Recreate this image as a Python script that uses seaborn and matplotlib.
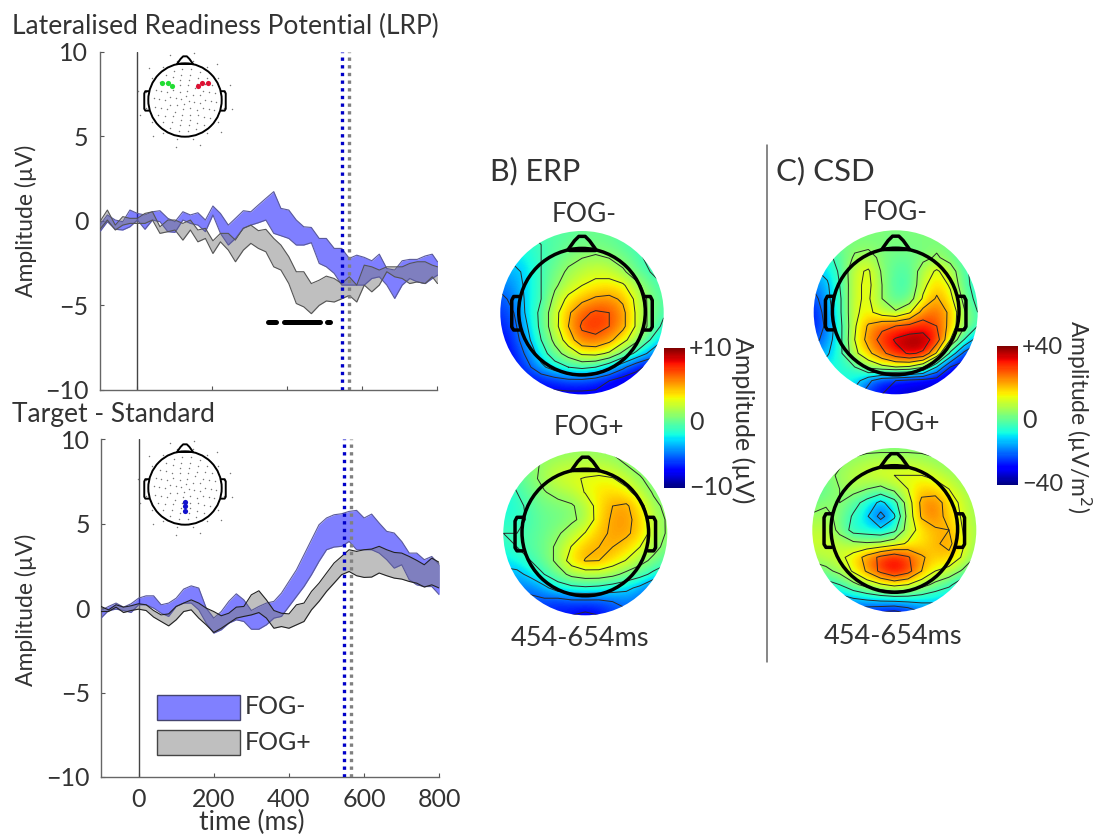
import numpy as np
import matplotlib
matplotlib.use("Agg")
import matplotlib.pyplot as plt
from matplotlib.patches import Circle, Rectangle
import seaborn as sns

# ---- band data (uV) ----
time_lrp = [-99, -79, -58, -38, -19, 1, 21, 41, 61, 82, 101, 122, 142, 162, 182, 202, 222, 243, 262, 283, 303, 323, 343,
            364, 383, 404, 424, 444, 464, 485, 504, 525, 545, 565, 585, 605, 625, 645, 665, 686, 706, 726, 746, 767, 786, 800]
lrp_minus_hi = [-.26, .34, .04, -.06, .63, .43, .34, .53, .59, .14, -.06, .53, .34, .47, .04, .87, .43, -.26, .14, .59, .53, .93, 1.32,
                1.72, .73, .63, .04, -.36, -.40, -1.05, -1.05, -1.64, -1.64, -2.23, -2.04, -2.17, -2.37, -1.98, -2.83, -2.92, -2.37, -2.29, -2.29, -2.09, -1.98, -2.43]
lrp_minus_lo = [-.65, -.06, -.51, -.55, -.36, .04, -.51, .04, -.06, -.65, -.69, .04, -.16, -.26, -.65, .34, -.75, -1.44, -1.05, -.45, -.26, -.12, .04,
                -.75, -.89, -1.05, -1.44, -1.44, -1.30, -2.53, -2.73, -3.12, -3.81, -3.81, -3.81, -3.81, -3.42, -3.32, -3.81, -4.60, -3.81, -3.42, -3.62, -3.72, -3.42, -3.22]
lrp_plus_hi = [-.06, .63, -.26, .24, .14, .14, .43, .53, -.36, .04, .04, -.16, .04, -.55, -.45, -1.19, -.75, -.75, -1.15, -.45, -.26, -.59, -.51,
               -1.05, -1.44, -2.13, -3.02, -3.02, -3.72, -3.52, -3.28, -3.42, -3.72, -3.32, -3.81, -2.63, -2.73, -2.92, -2.73, -2.73, -2.73, -2.53, -2.43, -2.43, -2.63, -2.73]
lrp_plus_lo = [-.51, .04, -.55, -.26, -.16, -.16, -.16, .04, -.75, -.65, -.55, -1.15, -.55, -1.25, -1.05, -1.94, -1.25, -1.74, -2.43, -1.74, -1.34, -1.64, -1.84,
               -2.73, -2.92, -3.72, -4.90, -5.10, -5.50, -5.01, -4.75, -4.81, -4.62, -4.42, -4.81, -3.81, -4.21, -3.81, -3.02, -3.32, -3.42, -3.72, -3.62, -3.72, -3.32, -3.72]

time_ts = list(range(-100, 801, 20))
ts_minus_hi = [-.14, .10, .30, .06, .26, .59, .73, .73, .20, .30, .59, 1.13, 1.32, 1.19, 0, -.59, -.20, .40, .85, .49, -.14, .10, .30,
               .40, .89, 1.58, 2.27, 3.16, 4.05, 4.94, 5.34, 5.53, 5.59, 5.73, 5.79, 5.34, 5.57, 5.04, 4.55, 4.45, 3.95, 3.26, 3.26, 2.87, 3.06, 2.57]
ts_minus_lo = [-.59, -.14, -.06, -.14, -.26, .20, .20, 0, -.30, -.49, .10, .30, .30, -.10, -.89, -1.48, -1.28, -.89, -.69, -.79, -1.25, -1.25, -.99,
               -.59, -.49, .10, .69, 1.28, 1.98, 2.77, 3.46, 3.62, 3.66, 3.95, 3.46, 3.46, 3.46, 3.26, 2.87, 2.37, 2.57, 1.68, 1.38, 1.28, 1.28, .79]
ts_plus_hi = [.10, -.10, .20, .06, .14, .26, .20, -.14, -.40, -.34, .10, .30, .49, .30, 0, -.20, -.45, -.30, .06, .10, .79, 1.03, .49,
              -.14, -.30, -.34, .20, .30, .99, 1.48, 2.08, 2.67, 3.06, 3.46, 3.36, 3.46, 3.50, 3.66, 3.46, 3.30, 3.26, 3.06, 2.83, 2.57, 2.96, 2.71]
ts_plus_lo = [-.20, -.20, .06, -.26, -.14, -.06, -.14, -.53, -.79, -1.05, -.69, -.20, -.10, -.59, -.99, -1.44, -1.19, -.89, -.59, -.49, -.40, -.26, -.59,
              -1.19, -1.09, -1.19, -.99, -.79, -.10, .40, .99, 1.48, 1.98, 2.17, 1.92, 1.82, 1.84, 2.08, 1.92, 1.78, 1.72, 1.58, 1.48, 1.25, 1.38, 1.19]

sig_start = [349, 391, 507]
sig_end = [369, 487, 515]
sig_level = -6
peak_minus = 546
peak_plus = 564
y_ticks = [-10, -5, 0, 5, 10]
y_tick_labels = ["\u221210", "\u22125", "0", "5", "10"]
x_ticks = [0, 200, 400, 600, 800]

# ---- scalp maps, 13 x 13 samples across the disc, top row = front of the head ----
erp_minus = [
    [-1.5, -1.5, -1.5, -1, -1, -1, -.5, -.5, -.5, -1, -1, -1.5, -1.5],
    [-2, -2, -2, -1.5, -1, -.5, -.3, -.3, -.5, -1, -1.5, -2, -2],
    [-3, -3, -2.5, -1.5, -.8, 0, .5, .8, .5, -.2, -1, -2, -2.5],
    [-4, -4, -3, -1.5, -.3, .8, 1.5, 2, 1.8, .8, -.5, -1.5, -2],
    [-5, -4.5, -3, -1.5, .2, 1.5, 2.5, 3, 3.2, 2.8, 1, -.5, -1.5],
    [-6, -5, -3, -1.5, 1, 3, 4, 4.8, 5, 4.2, 2, 0, -1],
    [-6.5, -5.5, -3, -1, 1.8, 4.2, 6, 6.8, 6.5, 5, 2.2, 0, -1.2],
    [-7, -6, -3.5, -1, 1.8, 4.5, 6.8, 7.2, 6.5, 5, 2.2, 0, -2],
    [-7.5, -6.5, -4, -1.5, 1, 3.5, 5.8, 6, 5, 3.2, 1, -1.5, -3.5],
    [-8, -7, -5, -2.5, -.3, 1.3, 2.8, 3, 2.2, 0, -2, -4, -6],
    [-8, -7.5, -6, -4, -2.5, -1.5, -1, -1.5, -3, -5, -7, -8, -8],
    [-8, -8, -7.5, -7, -6.5, -6, -6, -6.5, -7.5, -8.5, -8.5, -8.5, -8.5],
    [-8, -8, -8, -8, -8, -8, -8, -8, -8, -8, -8, -8, -8],
]
erp_plus = [
    [-.5, -.5, 0, 0, .3, .5, .5, .5, .3, 0, -.5, -.5, -.5],
    [-1, -.5, 0, .8, 1.3, 1.5, 1.6, 1.5, 1.2, .5, -.2, -.8, -1],
    [-2, -1, 0, 1, 2, 2.3, 2.6, 2.8, 2.6, 1.8, .7, -.3, -1],
    [-2.5, -1.5, -.5, .4, 1, 1.5, 2.6, 3.2, 3.5, 3, 1.7, .3, -.5],
    [-2.5, -2, -1, -.3, 0, .3, 1.3, 3.3, 4.5, 4.8, 3.2, 1, 0],
    [-2, -2, -1.2, -.5, -.3, .2, 1, 3.4, 4.8, 5, 3.8, 1.5, .3],
    [-1.5, -1.5, -1, -.5, .3, 1.3, 2.6, 4, 4.8, 4.8, 3.8, 1.6, .3],
    [-2, -1.5, -1, -.3, .9, 2.6, 4, 4.5, 4.5, 3.8, 2.5, 1.2, -.2],
    [-3, -2.5, -1.5, -.5, 1, 3.4, 4.6, 4.5, 3.5, 2.4, 1.2, 0, -1],
    [-4, -4, -3, -1.5, -.3, 1, 1.5, 1.5, 1, 0, -.8, -2, -3],
    [-5, -5, -5, -4, -2.5, -2, -1.8, -2, -2.5, -3, -4, -6, -6.5],
    [-6, -6, -6, -6, -6.5, -6, -6, -6, -5.5, -5, -5.5, -6, -6],
    [-7, -7, -7, -7, -7, -7.5, -8, -7.5, -6.5, -6, -6, -6, -6],
]
csd_minus = [
    [0, 0, 0, 0, 0, 0, 0, 0, 0, 0, 0, 0, 0],
    [-2, -2, -1, 0, 0, 0, 0, 0, 0, 0, -1, -2, -3],
    [-10, -8, -3, 3, 5, 0, -2, -2, 0, 3, -1, -6, -10],
    [-15, -12, -4, 8, 11, 1, -4, -4, 6, 11, 6, -4, -10],
    [-20, -15, -5, 8, 12, 2, -5, -5, 8, 15, 9, -3, -10],
    [-25, -16, -6, 9, 11, 2, -4, -2, 11, 19, 12, 0, -9],
    [-28, -18, -6, 9, 12, 6, 3, 9, 21, 24, 16, 3, -6],
    [-28, -20, -7, 9, 19, 24, 26, 28, 30, 26, 15, 3, -6],
    [-25, -18, -7, 10, 21, 29, 35, 38, 38, 30, 10, -6, -18],
    [-20, -15, -7, 8, 16, 24, 31, 35, 33, 17, -8, -24, -32],
    [-12, -10, -9, -6, 4, 8, 10, 9, 3, -14, -30, -34, -35],
    [-10, -9, -9, -10, -20, -28, -30, -32, -33, -34, -34, -34, -34],
    [-10, -10, -12, -18, -26, -30, -32, -34, -34, -34, -34, -34, -34],
]
csd_plus = [
    [0, 0, 0, 0, 0, 0, 0, 0, 0, 0, 0, 0, 0],
    [0, 0, 1, 3, 5, 6, 6, 6, 5, 3, 1, 0, 0],
    [-2, 0, 3, 6, 8, 9, 10, 10, 10, 8, 5, 2, 0],
    [-5, -2, 2, 5, 2, 0, 4, 10, 15, 14, 10, 5, 2],
    [-1, 1, 2, -3, -9, -16, -9, 6, 20, 22, 14, 8, 3],
    [3, 4, 0, -7, -13, -25, -15, 5, 19, 22, 15, 9, 3],
    [6, 7, 0, -9, -10, -12, -8, 6, 13, 17, 18, 10, 4],
    [8, 8, 6, 4, 3, 4, 7, 11, 13, 17, 20, 11, 3],
    [4, 6, 8, 13, 21, 28, 32, 27, 19, 15, 16, 9, 1],
    [-2, 0, 4, 11, 19, 28, 34, 29, 18, 10, 7, 1, -5],
    [-8, -9, -6, 0, 5, 9, 12, 10, 5, 0, -4, -12, -20],
    [-14, -18, -17, -14, -12, -10, -9, -9, -10, -12, -15, -22, -24],
    [-22, -22, -24, -26, -28, -30, -32, -28, -22, -18, -16, -18, -20],
]

# channel positions on the small heads, unit head radius
lrp_left_x = [-.63, -.45, -.36]
lrp_left_y = [.47, .47, .38]
lrp_right_x = [.36, .45, .63]
lrp_right_y = [.38, .47, .47]
ts_chan_x = [0, 0, 0]
ts_chan_y = [-.37, -.5, -.64]
ring_radius = [.12, .25, .42, .55, .7, .85, 1.08, 1.3]
ring_count = [4, 8, 12, 14, 18, 22, 16, 12]

W, H = 1095, 834
TXT = "#333333"
BLUE_EDGE = "#5a5a9a"
GRAY_EDGE = "#555555"

sns.set_theme(style="white")
plt.rcParams["font.family"] = ["Lato", "DejaVu Sans"]
plt.rcParams["text.color"] = TXT

fig = plt.figure(figsize=(W / 100, H / 100), dpi=100)


def px_axes(left, top, right, bottom):
    return fig.add_axes([left / W, 1 - bottom / H, (right - left) / W, (bottom - top) / H])


def draw_bands(ax, t, minus_hi, minus_lo, plus_hi, plus_lo, plus_edge):
    ax.fill_between(t, minus_lo, minus_hi, color="#0000ff", alpha=0.5, lw=0, zorder=2)
    ax.fill_between(t, plus_lo, plus_hi, color="#808080", alpha=0.5, lw=0, zorder=3)
    for vals in (minus_hi, minus_lo):
        sns.lineplot(x=t, y=vals, ax=ax, color=BLUE_EDGE, lw=0.8, estimator=None, zorder=4)
    for vals in (plus_hi, plus_lo):
        sns.lineplot(x=t, y=vals, ax=ax, color=plus_edge, lw=0.8, estimator=None, zorder=4)
    ax.axvline(0, color="#444444", lw=1, zorder=1)
    ax.axvline(peak_minus, color="#0000c8", lw=2.4, ls=(0, (1, 1.3)), zorder=5)
    ax.axvline(peak_plus, color="#808080", lw=2.4, ls=(0, (1, 1.3)), zorder=5)
    ax.set_xlim(-100, 800)
    ax.set_ylim(-10, 10)
    ax.set_yticks(y_ticks)
    ax.set_yticklabels(y_tick_labels)
    ax.set_xticks(x_ticks)
    ax.tick_params(axis="both", direction="in", length=3, width=0.8, color="#555555",
                   labelsize=18, labelcolor=TXT, pad=8, left=True, bottom=True)
    ax.patch.set_alpha(0)
    sns.despine(ax=ax)
    for s in ("left", "bottom"):
        ax.spines[s].set_color("#666666")
        ax.spines[s].set_linewidth(1.0)


ax_lrp = px_axes(99.5, 51.7, 437.5, 389.7)
draw_bands(ax_lrp, time_lrp, lrp_minus_hi, lrp_minus_lo, lrp_plus_hi, lrp_plus_lo, GRAY_EDGE)
ax_lrp.set_xticklabels([])
for a, b in zip(sig_start, sig_end):
    ax_lrp.plot([a, b], [sig_level, sig_level], color="black", lw=3.6, solid_capstyle="round", zorder=6)

ax_ts = px_axes(101, 439.3, 439.3, 777)
draw_bands(ax_ts, time_ts, ts_minus_hi, ts_minus_lo, ts_plus_hi, ts_plus_lo, "#222222")

# overlay in figure pixels for heads, maps and free text
ov = fig.add_axes([0, 0, 1, 1], zorder=10)
ov.patch.set_alpha(0)
ov.axis("off")


def draw_head(cx, cy, r, lw):
    ov.add_patch(Circle((cx, cy), r, fill=False, ec="black", lw=lw, zorder=8))
    nose_x = np.array([-.22, -.12, -.05, .05, .12, .22])
    nose_y = np.array([.98, 1.12, 1.19, 1.19, 1.12, .98])
    ov.plot(cx + r * nose_x, cy - r * nose_y, color="black", lw=lw, zorder=8)
    ov.plot(cx + r * np.array([-.2, .2]), cy - r * np.array([.98, .98]), color="black", lw=lw, zorder=8)
    for side in (-1, 1):
        ear_x = side * np.array([.99, 1.08, 1.11, 1.11, 1.08, .99])
        ear_y = np.array([.24, .24, .18, -.24, -.29, -.29])
        ov.plot(cx + r * ear_x, cy - r * ear_y, color="black", lw=lw, zorder=8)


def draw_channels(cx, cy, r, extra):
    for rad, n in zip(ring_radius, ring_count):
        ang = np.linspace(0, 2 * np.pi, n, endpoint=False) + 0.2
        ov.scatter(cx + r * rad * np.sin(ang), cy - r * rad * np.cos(ang), s=1.1, color="#777777", lw=0, zorder=7)
    for xs, ys, col in extra:
        ov.scatter(cx + r * np.array(xs), cy - r * np.array(ys), s=14, color=col, lw=0, zorder=9)


def draw_map(grid, cx, cy, r, vmax, head_cx, head_cy):
    z = np.array(grid, dtype=float)
    half = r / 12
    disc = Circle((cx, cy), r, transform=ov.transData)
    im = ov.imshow(z, cmap="jet", vmin=-vmax, vmax=vmax, interpolation="bicubic", aspect="auto",
                   extent=(cx - r - half, cx + r + half, cy + r + half, cy - r - half), zorder=2)
    im.set_clip_path(disc)
    xs = cx + r * np.linspace(-1, 1, z.shape[1])
    ys = cy + r * np.linspace(-1, 1, z.shape[0])
    levels = np.arange(-0.75, 0.86, 0.2) * vmax
    cs = ov.contour(xs, ys, z, levels=levels, colors="#2a2a2a", linewidths=0.7, linestyles="solid", zorder=3)
    cs.set_clip_path(disc)
    draw_head(head_cx, head_cy, 63.3, 2.5)


draw_map(erp_minus, 582, 312.7, 81.7, 10, 582, 311.7)
draw_map(erp_plus, 585.3, 533.3, 82, 10, 585.3, 532.5)
draw_map(csd_minus, 895.7, 312.3, 82, 40, 895.7, 311.5)
draw_map(csd_plus, 894.3, 530, 82, 40, 894.3, 529)

draw_head(185, 100, 36.7, 1.4)
draw_channels(185, 100, 36.7, [(lrp_left_x, lrp_left_y, "#22dd33"), (lrp_right_x, lrp_right_y, "#dd1133")])
draw_head(185, 488, 36.7, 1.4)
draw_channels(185, 488, 36.7, [(ts_chan_x, ts_chan_y, "#1111cc")])

ov.set_xlim(0, W)
ov.set_ylim(H, 0)

# legend boxes
ov.add_patch(Rectangle((156.5, 694.7), 83, 25.5, fc="#8080ff", ec="#45456f", lw=1, zorder=6))
ov.add_patch(Rectangle((156.5, 729.5), 83, 25.2, fc="#bfbfbf", ec="#444444", lw=1, zorder=6))

# separator between B and C
ov.plot([767, 767], [145, 662], color="#666666", lw=1.1)

# colour bars
for left, right, top, bottom, vmax in [(664, 685, 347.7, 487.7, 10), (996.7, 1018.3, 345.7, 485, 40)]:
    cax = px_axes(left, top, right, bottom)
    sns.heatmap(np.linspace(vmax, -vmax, 128).reshape(-1, 1), ax=cax, cmap="jet", vmin=-vmax, vmax=vmax,
                cbar=False, xticklabels=False, yticklabels=False)


def label(x, y, s, size=18, **kw):
    ov.text(x, y, s, fontsize=size, ha=kw.pop("ha", "center"), va="center", color=TXT, **kw)


label(12, 26, "Lateralised Readiness Potential (LRP)", size=19, ha="left")
label(12, 414, "Target - Standard", size=19, ha="left")
label(26, 221, "Amplitude (\u00b5V)", size=16.5, rotation=90)
label(26, 610, "Amplitude (\u00b5V)", size=16.5, rotation=90)
label(252, 822, "time (ms)", size=19)
label(245, 707, "FOG-", ha="left")
label(245, 742, "FOG+", ha="left")
label(490, 171, "B) ERP", size=22, ha="left")
label(776, 171, "C) CSD", size=22.5, ha="left")
label(584, 214, "FOG-", size=19)
label(589, 427, "FOG+", size=19)
label(580, 638, "454-654ms", size=19.5)
label(895, 212, "FOG-", size=19)
label(905, 423, "FOG+", size=19)
label(893, 636, "454-654ms", size=19.5)
label(689, 348, "+10", ha="left")
label(689, 422, "0", ha="left")
label(689, 487, "\u221210", ha="left")
label(1022, 347, "+40", size=17, ha="left")
label(1022, 420, "0", ha="left")
label(1022, 484, "\u221240", size=17, ha="left")
label(743, 420, "Amplitude (\u00b5V)", rotation=270)
label(1079, 417, "Amplitude (\u00b5V/m$^2$)", size=16.5, rotation=270)

fig.savefig("out.png", dpi=100)
